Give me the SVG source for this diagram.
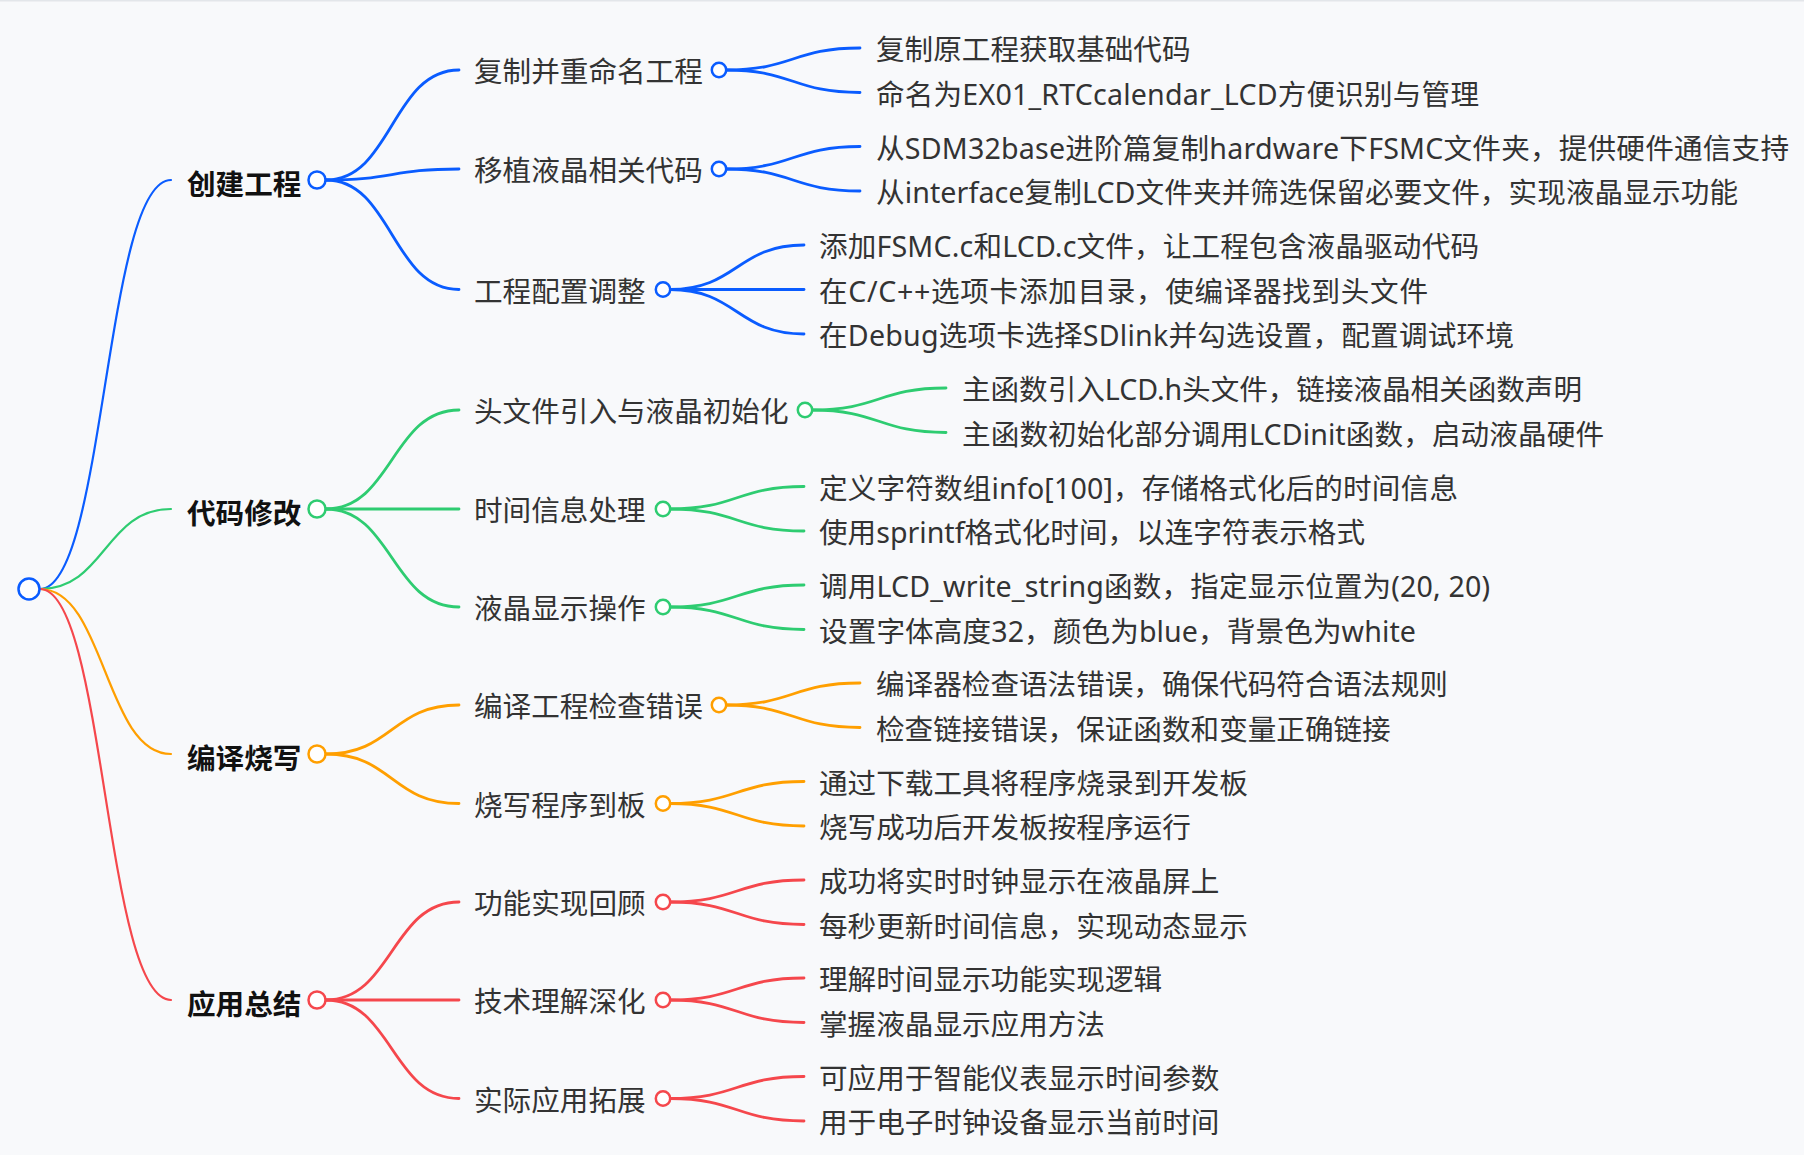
<svg xmlns="http://www.w3.org/2000/svg" width="1804" height="1155" viewBox="0 0 1804 1155">
<style>
text{font-family:"Noto Sans","Noto Sans CJK SC",sans-serif;font-size:28.6px;fill:#333}
.l1{font-weight:700;fill:#111}
.c path{fill:none;stroke-linecap:round}
.b{stroke:#0a5cff}.g{stroke:#2ecc71}.o{stroke:#ff9f00}.r{stroke:#f5474c}
.w1{stroke-width:2.2}.w2{stroke-width:2.8}
circle{fill:#fff;stroke-width:2.5}
</style>
<rect x="0" y="0" width="1804" height="1155" fill="#f8f9fb"/>
<rect x="0" y="0" width="1804" height="1.5" fill="#e3e6ea"/>
<g id="connectors" class="c">
<path class="b w1" d="M40 589C105 589 105 180 171 180"/>
<path class="g w1" d="M40 589C105 589 105 509 171 509"/>
<path class="o w1" d="M40 589C105 589 105 754 171 754"/>
<path class="r w1" d="M40 589C105 589 105 1000 171 1000"/>
<path class="b w2" d="M326 180C392 180 392 70 459 70"/>
<path class="b w2" d="M326 180C392 180 392 169 459 169"/>
<path class="b w2" d="M326 180C392 180 392 289.5 459 289.5"/>
<path class="g w2" d="M326 509C392 509 392 410 459 410"/>
<path class="g w2" d="M326 509C392 509 392 509 459 509"/>
<path class="g w2" d="M326 509C392 509 392 607 459 607"/>
<path class="o w2" d="M326 754C392 754 392 705 459 705"/>
<path class="o w2" d="M326 754C392 754 392 803.5 459 803.5"/>
<path class="r w2" d="M326 1000C392 1000 392 902 459 902"/>
<path class="r w2" d="M326 1000C392 1000 392 1000 459 1000"/>
<path class="r w2" d="M326 1000C392 1000 392 1098.5 459 1098.5"/>
<path class="b w2" d="M726 70C793 70 793 48 860 48"/>
<path class="b w2" d="M726 70C793 70 793 92.5 860 92.5"/>
<path class="b w2" d="M726 169C793 169 793 146.5 860 146.5"/>
<path class="b w2" d="M726 169C793 169 793 191 860 191"/>
<path class="b w2" d="M670 289.5C737 289.5 737 245 804 245"/>
<path class="b w2" d="M670 289.5C737 289.5 737 289.5 804 289.5"/>
<path class="b w2" d="M670 289.5C737 289.5 737 334 804 334"/>
<path class="g w2" d="M812 410C879 410 879 388 946 388"/>
<path class="g w2" d="M812 410C879 410 879 432.5 946 432.5"/>
<path class="g w2" d="M670 509C737 509 737 486.5 804 486.5"/>
<path class="g w2" d="M670 509C737 509 737 531 804 531"/>
<path class="g w2" d="M670 607C737 607 737 585 804 585"/>
<path class="g w2" d="M670 607C737 607 737 629.5 804 629.5"/>
<path class="o w2" d="M726 705C793 705 793 683 860 683"/>
<path class="o w2" d="M726 705C793 705 793 727.5 860 727.5"/>
<path class="o w2" d="M670 803.5C737 803.5 737 781.5 804 781.5"/>
<path class="o w2" d="M670 803.5C737 803.5 737 826 804 826"/>
<path class="r w2" d="M670 902C737 902 737 880 804 880"/>
<path class="r w2" d="M670 902C737 902 737 924.5 804 924.5"/>
<path class="r w2" d="M670 1000C737 1000 737 978 804 978"/>
<path class="r w2" d="M670 1000C737 1000 737 1022.5 804 1022.5"/>
<path class="r w2" d="M670 1098.5C737 1098.5 737 1076.5 804 1076.5"/>
<path class="r w2" d="M670 1098.5C737 1098.5 737 1121 804 1121"/>
</g>
<g id="root"><circle class="b" cx="29" cy="589" r="10.5"/></g>
<g id="n-a"><text class="l1" x="187" y="195">创建工程</text><circle class="b" cx="317" cy="180" r="8.5"/></g>
<g id="n-b"><text class="l1" x="187" y="524">代码修改</text><circle class="g" cx="317" cy="509" r="8.5"/></g>
<g id="n-c"><text class="l1" x="187" y="769">编译烧写</text><circle class="o" cx="317" cy="754" r="8.5"/></g>
<g id="n-d"><text class="l1" x="187" y="1015">应用总结</text><circle class="r" cx="317" cy="1000" r="8.5"/></g>
<g id="n-a1"><text x="474" y="82">复制并重命名工程</text><circle class="b" cx="719" cy="70" r="7.2"/></g>
<g id="n-a2"><text x="474" y="181">移植液晶相关代码</text><circle class="b" cx="719" cy="169" r="7.2"/></g>
<g id="n-a3"><text x="474" y="301.5">工程配置调整</text><circle class="b" cx="663" cy="289.5" r="7.2"/></g>
<g id="n-b1"><text x="474" y="422">头文件引入与液晶初始化</text><circle class="g" cx="805" cy="410" r="7.2"/></g>
<g id="n-b2"><text x="474" y="521">时间信息处理</text><circle class="g" cx="663" cy="509" r="7.2"/></g>
<g id="n-b3"><text x="474" y="619">液晶显示操作</text><circle class="g" cx="663" cy="607" r="7.2"/></g>
<g id="n-c1"><text x="474" y="717">编译工程检查错误</text><circle class="o" cx="719" cy="705" r="7.2"/></g>
<g id="n-c2"><text x="474" y="815.5">烧写程序到板</text><circle class="o" cx="663" cy="803.5" r="7.2"/></g>
<g id="n-d1"><text x="474" y="914">功能实现回顾</text><circle class="r" cx="663" cy="902" r="7.2"/></g>
<g id="n-d2"><text x="474" y="1012">技术理解深化</text><circle class="r" cx="663" cy="1000" r="7.2"/></g>
<g id="n-d3"><text x="474" y="1110.5">实际应用拓展</text><circle class="r" cx="663" cy="1098.5" r="7.2"/></g>
<g id="n-a1a"><text x="876" y="60">复制原工程获取基础代码</text></g>
<g id="n-a1b"><text x="876" y="104.5" textLength="603" lengthAdjust="spacing">命名为EX01_RTCcalendar_LCD方便识别与管理</text></g>
<g id="n-a2a"><text x="876" y="158.5" textLength="913" lengthAdjust="spacing">从SDM32base进阶篇复制hardware下FSMC文件夹，提供硬件通信支持</text></g>
<g id="n-a2b"><text x="876" y="203" textLength="862" lengthAdjust="spacing">从interface复制LCD文件夹并筛选保留必要文件，实现液晶显示功能</text></g>
<g id="n-a3a"><text x="819" y="257" textLength="660" lengthAdjust="spacing">添加FSMC.c和LCD.c文件，让工程包含液晶驱动代码</text></g>
<g id="n-a3b"><text x="819" y="301.5" textLength="609" lengthAdjust="spacing">在C/C++选项卡添加目录，使编译器找到头文件</text></g>
<g id="n-a3c"><text x="819" y="346" textLength="695" lengthAdjust="spacing">在Debug选项卡选择SDlink并勾选设置，配置调试环境</text></g>
<g id="n-b1a"><text x="962" y="400" textLength="620" lengthAdjust="spacing">主函数引入LCD.h头文件，链接液晶相关函数声明</text></g>
<g id="n-b1b"><text x="962" y="444.5" textLength="642" lengthAdjust="spacing">主函数初始化部分调用LCDinit函数，启动液晶硬件</text></g>
<g id="n-b2a"><text x="819" y="498.5" textLength="639" lengthAdjust="spacing">定义字符数组info[100]，存储格式化后的时间信息</text></g>
<g id="n-b2b"><text x="819" y="543" textLength="546" lengthAdjust="spacing">使用sprintf格式化时间，以连字符表示格式</text></g>
<g id="n-b3a"><text x="819" y="597" textLength="671" lengthAdjust="spacing">调用LCD_write_string函数，指定显示位置为(20, 20)</text></g>
<g id="n-b3b"><text x="819" y="641.5" textLength="597" lengthAdjust="spacing">设置字体高度32，颜色为blue，背景色为white</text></g>
<g id="n-c1a"><text x="876" y="695">编译器检查语法错误，确保代码符合语法规则</text></g>
<g id="n-c1b"><text x="876" y="739.5">检查链接错误，保证函数和变量正确链接</text></g>
<g id="n-c2a"><text x="819" y="793.5">通过下载工具将程序烧录到开发板</text></g>
<g id="n-c2b"><text x="819" y="838">烧写成功后开发板按程序运行</text></g>
<g id="n-d1a"><text x="819" y="892">成功将实时时钟显示在液晶屏上</text></g>
<g id="n-d1b"><text x="819" y="936.5">每秒更新时间信息，实现动态显示</text></g>
<g id="n-d2a"><text x="819" y="990">理解时间显示功能实现逻辑</text></g>
<g id="n-d2b"><text x="819" y="1034.5">掌握液晶显示应用方法</text></g>
<g id="n-d3a"><text x="819" y="1088.5">可应用于智能仪表显示时间参数</text></g>
<g id="n-d3b"><text x="819" y="1133">用于电子时钟设备显示当前时间</text></g>
</svg>
